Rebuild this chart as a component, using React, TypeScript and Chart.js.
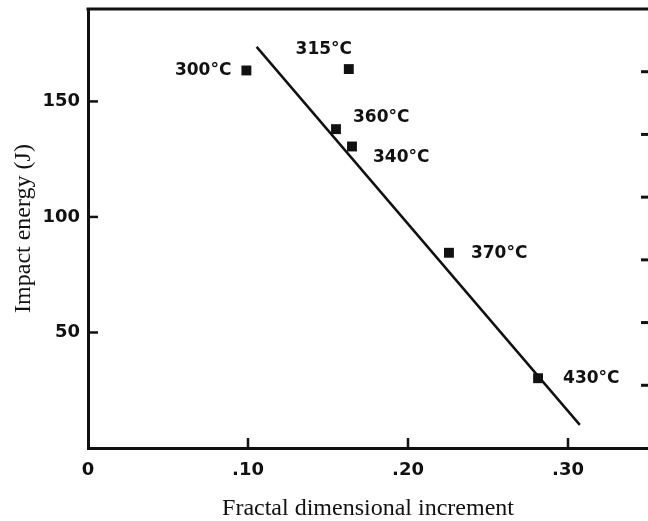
import React, { useEffect, useRef } from 'react';
import { Chart, registerables } from 'chart.js';

Chart.register(...registerables);

// ---- data ----
const pointLabels = ['300°C', '315°C', '360°C', '340°C', '370°C', '430°C'];
const fractalIncrement = [0.099, 0.163, 0.155, 0.165, 0.2256, 0.2813];
const impactEnergy = [163.4, 164.0, 138.0, 130.5, 84.5, 30.2];

const fitLineX = [0.1054, 0.3074];
const fitLineY = [173.6, 10.0];

const xTickValues = [0, 0.1, 0.2, 0.3];
const xTickLabels = ['0', '.10', '.20', '.30'];
const yTickValues = [50, 100, 150];
const rightTickValues = [1, 2, 3, 4, 5, 6];

// label placement relative to each point (style only)
const labelPlacement = [
  { dx: -15, dy: 0, align: 'right' },
  { dx: -25, dy: -19, align: 'center' },
  { dx: 17, dy: -12, align: 'left' },
  { dx: 21, dy: 11, align: 'left' },
  { dx: 22, dy: 1, align: 'left' },
  { dx: 25, dy: 0, align: 'left' },
];

const INK = '#111111';

const framePlugin = {
  id: 'frameAndLabels',
  afterDraw(chart: any) {
    const { ctx, chartArea, scales } = chart;
    ctx.save();
    ctx.strokeStyle = INK;
    ctx.lineCap = 'butt';

    // top frame line
    ctx.lineWidth = 3;
    ctx.beginPath();
    ctx.moveTo(chartArea.left - 1.5, chartArea.top);
    ctx.lineTo(chart.width, chartArea.top);
    ctx.stroke();

    // inward x ticks
    ctx.lineWidth = 2.5;
    xTickValues.forEach((v) => {
      if (v === 0) return;
      const x = scales.x.getPixelForValue(v);
      ctx.beginPath();
      ctx.moveTo(x, chartArea.bottom);
      ctx.lineTo(x, chartArea.bottom - 10);
      ctx.stroke();
    });

    // inward y ticks
    yTickValues.forEach((v) => {
      const y = scales.y.getPixelForValue(v);
      ctx.beginPath();
      ctx.moveTo(chartArea.left, y);
      ctx.lineTo(chartArea.left + 10, y);
      ctx.stroke();
    });

    // right-hand axis ticks (partially visible second axis)
    ctx.lineWidth = 3;
    rightTickValues.forEach((v) => {
      const y = scales.y2.getPixelForValue(v);
      ctx.beginPath();
      ctx.moveTo(chart.width - 7, y);
      ctx.lineTo(chart.width, y);
      ctx.stroke();
    });

    // point labels
    const meta = chart.getDatasetMeta(0);
    ctx.fillStyle = INK;
    ctx.font = 'bold 17px "DejaVu Sans"';
    ctx.textBaseline = 'middle';
    meta.data.forEach((el: any, i: number) => {
      const p = labelPlacement[i];
      ctx.textAlign = p.align;
      ctx.fillText(pointLabels[i], el.x + p.dx, el.y + p.dy);
    });
    ctx.restore();
  },
};

export default function App() {
  const canvasRef = useRef<HTMLCanvasElement | null>(null);

  useEffect(() => {
    if (!canvasRef.current) return;
    const points = fractalIncrement.map((x, i) => ({ x, y: impactEnergy[i] }));
    const fit = fitLineX.map((x, i) => ({ x, y: fitLineY[i] }));
    const tickFont = { family: '"DejaVu Sans"', size: 18, weight: 'bold' as const };
    const titleFont = { family: '"Liberation Serif"', size: 24, lineHeight: 1 };

    const chart = new Chart(canvasRef.current, {
      type: 'scatter',
      data: {
        datasets: [
          {
            data: points,
            pointStyle: 'rect',
            pointRadius: 7,
            pointHoverRadius: 7,
            backgroundColor: INK,
            borderWidth: 0,
            order: 0,
          },
          {
            data: fit,
            showLine: true,
            borderColor: INK,
            borderWidth: 2.5,
            pointRadius: 0,
            fill: false,
            order: 1,
          } as any,
        ],
      },
      options: {
        animation: false,
        responsive: false,
        layout: { autoPadding: false, padding: { top: 9, right: 0, left: 0, bottom: 0 } },
        plugins: { legend: { display: false }, tooltip: { enabled: false } },
        scales: {
          x: {
            type: 'linear',
            min: 0,
            max: 0.35,
            afterBuildTicks: (s: any) => {
              s.ticks = xTickValues.map((value) => ({ value }));
            },
            afterFit: (s: any) => {
              s.height = 73;
              s.paddingLeft = 0;
              s.paddingRight = 0;
              s.paddingTop = 0;
              s.paddingBottom = 0;
            },
            ticks: {
              color: INK,
              font: tickFont,
              padding: 12,
              maxRotation: 0,
              autoSkip: false,
              callback: (v: any) => {
                const i = xTickValues.indexOf(Number(v));
                return i >= 0 ? xTickLabels[i] : '';
              },
            },
            grid: { display: false, drawTicks: false },
            border: { display: true, color: INK, width: 3 },
            title: {
              display: true,
              text: 'Fractal dimensional increment',
              color: INK,
              font: titleFont,
              padding: { top: 0, bottom: 0 },
            },
          },
          y: {
            type: 'linear',
            min: 0,
            max: 190,
            afterBuildTicks: (s: any) => {
              s.ticks = yTickValues.map((value) => ({ value }));
            },
            afterFit: (s: any) => {
              s.width = 88;
              s.paddingLeft = 0;
              s.paddingRight = 0;
              s.paddingTop = 0;
              s.paddingBottom = 0;
            },
            ticks: { color: INK, font: tickFont, padding: 8 },
            grid: { display: false, drawTicks: false },
            border: { display: true, color: INK, width: 3 },
            title: {
              display: true,
              text: 'Impact energy (J)',
              color: INK,
              font: titleFont,
              padding: { top: 12, bottom: 0 },
            },
          },
          y2: {
            type: 'linear',
            position: 'right',
            display: false,
            min: 0,
            max: 7,
          },
        },
      },
      plugins: [framePlugin],
    } as any);

    return () => chart.destroy();
  }, []);

  return (
    <div style={{ position: 'fixed', left: 0, top: 0, width: 648, height: 521, background: '#fff' }}>
      <canvas ref={canvasRef} width={648} height={521} style={{ display: 'block' }} />
    </div>
  );
}
